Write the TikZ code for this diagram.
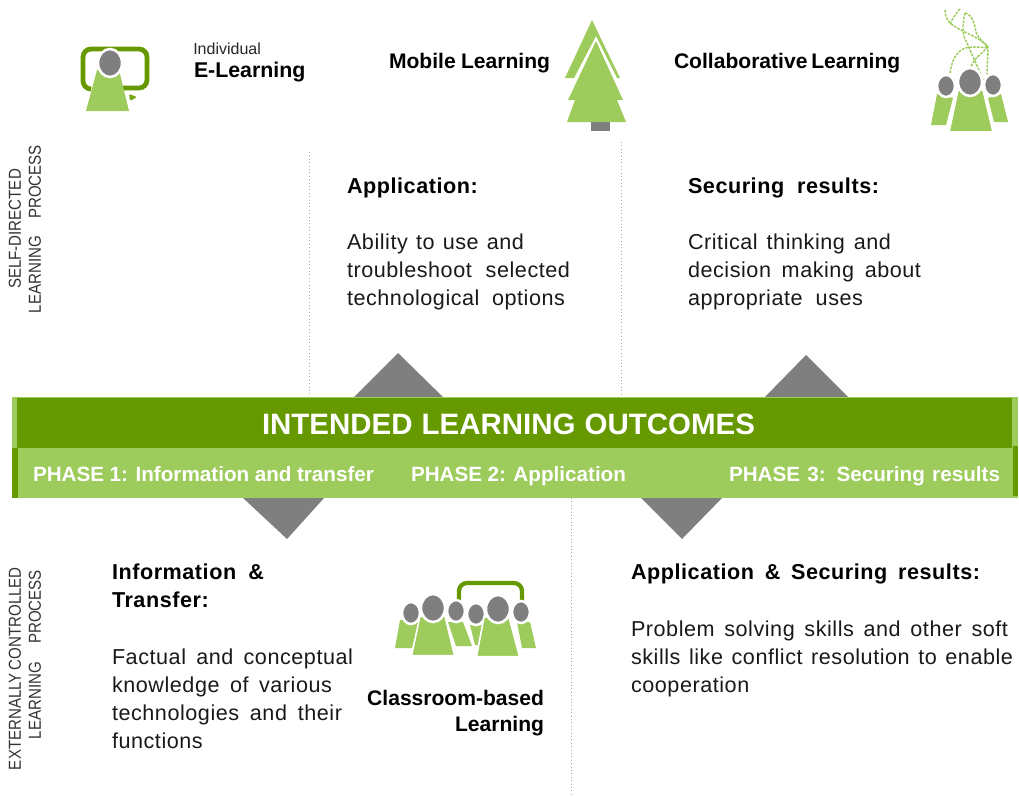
\documentclass[tikz,border=0pt]{standalone}
\usepackage{fontspec}
\setmainfont{Liberation Sans}
\newfontfamily\spaced[LetterSpace=2.5]{Liberation Sans}
\newfontfamily\sidefont[FakeStretch=0.87]{Liberation Sans}
\definecolor{dkgreen}{HTML}{669900}
\definecolor{ltgreen}{HTML}{9DCB5C}
\definecolor{midgray}{HTML}{7F7F7F}
\tikzset{
  x=0.75pt,y=-0.75pt,
  txt/.style={anchor=base west,inner sep=0pt,outer sep=0pt,align=left,font=\fontsize{16.2pt}{21pt}\selectfont\spaced,text=black!90},
  btxt/.style={txt,font=\fontsize{16.2pt}{21pt}\selectfont\spaced\bfseries,text=black},
  icon/.style={anchor=base west,inner sep=0pt,outer sep=0pt,align=left,font=\fontsize{15.8pt}{19.5pt}\selectfont\bfseries},
  ban/.style={anchor=base west,inner sep=0pt,outer sep=0pt,text=white,font=\fontsize{15.5pt}{18pt}\selectfont\bfseries},
  side/.style={rotate=90,inner sep=0pt,outer sep=0pt,text=black!80,font=\fontsize{13pt}{15pt}\selectfont\sidefont},
  vline/.style={draw=black!35,line width=0.55pt,dotted,line cap=butt},
  tri/.style={fill=midgray,draw=none},
  bodyl/.style={fill=ltgreen,draw=none},
  head/.style={fill=midgray,draw=white,line width=1.9pt},
  bracket/.style={draw=dkgreen,line width=3.2pt,fill=none},
  web/.style={draw=ltgreen,line width=1.1pt,dash pattern=on 2pt off 0.9pt},
}
\newcommand{\hd}[4]{\draw[head] (#1,#2) ellipse [x radius=#3*0.75pt,y radius=#4*0.75pt];}
\newcommand{\jl}[2]{\makebox[\dimexpr #1pt*3/4\relax][s]{#2}}
\begin{document}
\begin{tikzpicture}
\useasboundingbox (0,0) rectangle (1019,796);
% divider lines
\coordinate (v1a) at (309,152); \coordinate (v1b) at (309,398);
\coordinate (v2a) at (621,142); \coordinate (v2b) at (621,398);
\coordinate (v3a) at (571,498); \coordinate (v3b) at (571,796);
\draw[vline] (v1a) -- (v1b);
\draw[vline] (v2a) -- (v2b);
\draw[vline] (v3a) -- (v3b);
% triangles
\fill[tri] (352,399) -- (398,353) -- (445,399) -- cycle;
\fill[tri] (763,399) -- (806,355) -- (850,399) -- cycle;
\fill[tri] (242,497) -- (325,497) -- (287,539) -- cycle;
\fill[tri] (640,497) -- (723,497) -- (682,539) -- cycle;
% banner
\fill[ltgreen] (12,397) rectangle (1018,448);
\fill[dkgreen] (17,398) rectangle (1012,448);
\fill[ltgreen] (12,448) rectangle (1018,498);
\fill[dkgreen] (12,448) rectangle (18,498);
\fill[dkgreen] (1013,446) rectangle (1018,496);
\node[ban,font=\fontsize{22.1pt}{24pt}\selectfont\bfseries] (title) at (262,434) {\jl{493}{INTENDED LEARNING OUTCOMES}};
\node[ban] (ph1) at (33,481) {\jl{341}{PHASE 1: Information and transfer}};
\node[ban] (ph2) at (411,481) {\jl{215}{PHASE 2: Application}};
\node[ban] (ph3) at (729,481) {\jl{271}{PHASE 3: Securing results}};
% E-learning icon
\draw[bracket,line width=3.6pt,rounded corners=6pt] (90,89) -- (83,89) -- (83,49) -- (147,49) -- (147,88) -- (122,88);
\fill[dkgreen!75!ltgreen,rounded corners=1pt] (129,94) -- (137,97) -- (130,101) -- cycle;
\fill[bodyl] (97,70) -- (119,70) -- (129,111) -- (86,111) -- cycle;
\hd{110}{63}{12}{14}
\node[anchor=base west,inner sep=0pt,font=\fontsize{12pt}{14pt}\selectfont,text=black!85] (ind) at (193,54) {Individual};
\node[icon,font=\fontsize{16pt}{18pt}\selectfont\bfseries] (el) at (194,77) {E-Learning};
% tree
\fill[ltgreen] (592,20) -- (620,78) -- (617,78) -- (596,36) -- (574,78) -- (565,78) -- cycle;
\fill[ltgreen] (596,41) -- (623,100) -- (617,100) -- (626,122) -- (567,122) -- (575,100) -- (568,100) -- cycle;
\fill[midgray] (591,122) rectangle (610,131);
\node[icon] (ml) at (389,68) {\jl{161}{Mobile Learning}};
% collaborative
\node[icon] (cl) at (674,68) {\jl{226}{Collaborative Learning}};
\draw[web] (945,10) .. controls (945,20) and (950,25) .. (965,32) .. controls (975,37) and (985,42) .. (988,47) .. controls (988,55) and (987,65) .. (987,74);
\draw[web] (960,9) .. controls (955,15) and (951,20) .. (950,25);
\draw[web] (950,73) .. controls (952,60) and (956,52) .. (965,48) .. controls (975,46) and (982,48) .. (988,47);
\draw[web] (965,13) .. controls (962,25) and (962,35) .. (967,43) .. controls (972,55) and (978,67) .. (983,80);
\draw[web] (965,13) .. controls (972,14) and (975,25) .. (976,32) .. controls (978,38) and (983,42) .. (988,47);
\draw[web] (970,70) .. controls (972,60) and (980,55) .. (988,47);
\fill[bodyl] (937,94) -- (953,98) -- (946,125) -- (931,125) -- cycle;
\fill[bodyl] (988,98) -- (1001,94) -- (1008,122) -- (994,122) -- cycle;
\hd{946}{86}{9}{11}
\hd{993}{85}{9}{11}
\fill[bodyl,draw=white,line width=1.2pt] (958,90) -- (983,90) -- (993,132) -- (949,132) -- cycle;
\hd{970}{82}{12}{14}
% classroom
\draw[bracket,rounded corners=6pt] (459,601) -- (459,583) -- (522,583) -- (522,601);
\fill[bodyl] (400,620) -- (420,620) -- (412,648) -- (395,648) -- cycle;
\fill[bodyl] (448,622) -- (463,622) -- (472,646) -- (456,646) -- cycle;
\fill[bodyl] (470,625) -- (482,625) -- (478,645) -- (475,645) -- cycle;
\fill[bodyl] (517,622) -- (530,622) -- (536,648) -- (522,648) -- cycle;
\hd{411}{613}{9}{11}
\hd{456}{611}{9}{11}
\hd{476}{614}{9}{11}
\hd{521}{612}{9}{11}
\fill[bodyl,draw=white,line width=1.2pt] (420,616) -- (445,616) -- (454.5,655.6) -- (411.5,655.6) -- cycle;
\fill[bodyl,draw=white,line width=1.2pt] (484,617) -- (509,617) -- (519.5,656.6) -- (476.5,656.6) -- cycle;
\hd{433}{608}{12}{14}
\hd{498}{609}{12}{14}
\node[icon,align=right,anchor=base east] (cb) at (544,731) {Classroom-based\\Learning};
% body text
\node[btxt] (ah) at (347,193) {Application:};
\node[txt] (at) at (347,305) {\jl{177}{Ability to use and}\\\jl{223}{troubleshoot selected}\\\jl{218}{technological options}};
\node[btxt] (sh) at (688,193) {\jl{191}{Securing results:}};
\node[txt] (st) at (688,305) {\jl{203}{Critical thinking and}\\\jl{233}{decision making about}\\\jl{175}{appropriate uses}};
\node[btxt] (ih) at (112,607) {\jl{152}{Information \&}\\Transfer:};
\node[txt] (it) at (112,748) {\jl{241}{Factual and conceptual}\\\jl{220}{knowledge of various}\\\jl{230}{technologies and their}\\functions};
\node[btxt] (ash) at (631,579) {\jl{349}{Application \& Securing results:}};
\node[txt] (ast) at (631,692) {\jl{377}{Problem solving skills and other soft}\\\jl{382}{skills like conflict resolution to enable}\\cooperation};
% side labels
\node[side,align=center] (s1) at (25,229) {SELF-DIRECTED\\\jl{168}{LEARNING PROCESS}};
\node[side,align=right] (s2) at (25,670) {\jl{200}{EXTERNALLY CONTROLLED}\\\jl{169}{LEARNING PROCESS}};
\end{tikzpicture}
\end{document}
